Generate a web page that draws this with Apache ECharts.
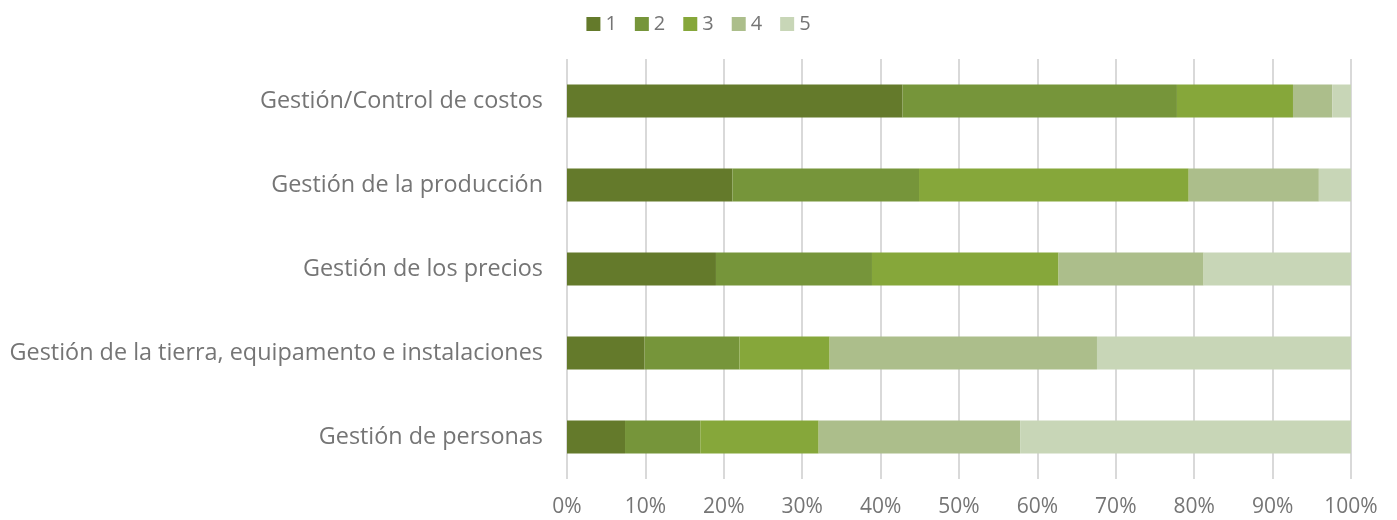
<!DOCTYPE html>
<html>
<head>
<meta charset="utf-8">
<script src="https://cdn.jsdelivr.net/npm/echarts@6/dist/echarts.min.js"></script>
<style>html,body{margin:0;padding:0;background:#fff}#c{width:1397px;height:520px}</style>
</head>
<body>
<div id="c"></div>
<script>
const categories = ["Gestión/Control de costos","Gestión de la producción","Gestión de los precios","Gestión de la tierra, equipamento e instalaciones","Gestión de personas"];
const seriesNames = ["1","2","3","4","5"];
const s1 = [42.8, 21.1, 19.0, 9.9, 7.4];
const s2 = [35.0, 23.8, 19.9, 12.1, 9.6];
const s3 = [14.8, 34.4, 23.8, 11.5, 15.1];
const s4 = [5.0, 16.6, 18.5, 34.1, 25.7];
const s5 = [2.4, 4.1, 18.8, 32.4, 42.2];
const xTicks = [0,10,20,30,40,50,60,70,80,90,100];
const colors = ["#647a2b","#76953a","#86a73a","#acbe8b","#c8d6b7"];

const data = [s1,s2,s3,s4,s5];
const chart = echarts.init(document.getElementById('c'));
chart.setOption({
  animation:false,
  color: colors,
  textStyle:{fontFamily:"Open Sans"},
  legend:{top:9,left:'center',itemWidth:14,itemHeight:14,itemGap:18,icon:'rect',
    textStyle:{color:'#757575',fontSize:20,fontFamily:"Open Sans"}},
  grid:{left:567,right:46,top:59,bottom:41,containLabel:false},
  xAxis:{type:'value',min:0,max:100,interval:10,
    axisLabel:{formatter:v=>v+'%',color:'#757575',fontSize:21,margin:18,fontFamily:"Open Sans"},
    splitLine:{show:true,lineStyle:{color:'#d9d9d9',width:2}},
    axisLine:{show:false},axisTick:{show:false}},
  yAxis:{type:'category',data:categories,inverse:true,
    axisLabel:{color:'#757575',fontSize:23.4,margin:24,fontFamily:"Open Sans"},
    axisLine:{show:false},axisTick:{show:false}},
  series: seriesNames.map((n,i)=>({name:n,type:'bar',stack:'t',data:data[i],barWidth:33}))
});
</script>
</body>
</html>
